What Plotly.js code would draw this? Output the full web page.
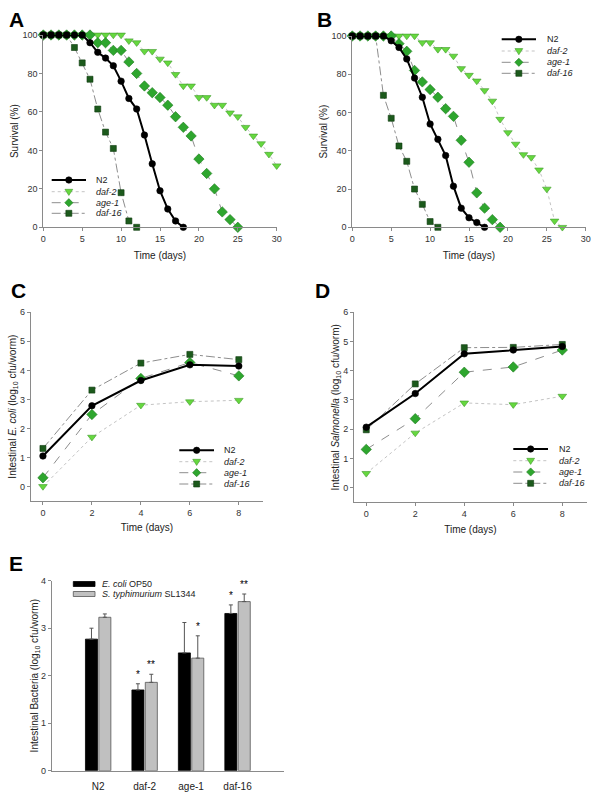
<!DOCTYPE html>
<html><head><meta charset="utf-8">
<script src="https://cdn.plot.ly/plotly-3.0.1.min.js"></script>
<style>html,body{margin:0;padding:0;background:#fff}</style>
</head><body><div id="chart" style="width:600px;height:800px"></div>
<script>
// ---------- DATA ----------
// Panel A: survival (%) on E. coli
const daysA_N2    = [0,1,2,3,4,5,6,7,8,9,10,11,12,13,14,15,16,17,18];
const survA_N2    = [100,100,100,100,100,100,96,91,88,84,76,67,61.5,48,33,19,9.5,3.3,0];
const daysA_daf2  = [0,1,2,3,4,5,6,7,8,9,10,11,12,13,14,15,16,17,18,19,20,21,22,23,24,25,26,27,28,29,30];
const survA_daf2  = [100,100,100,100,100,100,100,100,100,100,100,97,96,91.5,91.5,87.5,85.5,79.5,73.5,73.5,67.5,67.5,63.5,63.5,59.5,57.5,52,47.5,43.5,38,32];
const daysA_age1  = [0,1,2,3,4,5,6,7,8,9,10,11,12,13,14,15,16,17,18,19,20,21,22,23,24,25];
const survA_age1  = [100,100,100,100,100,100,100,96,96,92,92,86,80,73.5,70,67.5,63.5,57.5,52,47.5,35.5,28,20,8,4,0];
const daysA_daf16 = [0,1,2,3,4,5,6,7,8,9,10,11,12];
const survA_daf16 = [100,100,100,100,93.5,85.5,77,61.5,49.5,41,18,3.3,0];

// Panel B: survival (%) on Salmonella
const daysB_N2    = [0,1,2,3,4,5,6,7,8,9,10,11,12,13,14,15,16,17];
const survB_N2    = [100,100,100,100,100,97.5,94,88,78,68,54,46,37.5,21.5,10,5,2.5,0];
const daysB_daf2  = [0,1,2,3,4,5,6,7,8,9,10,11,12,13,14,15,16,17,18,19,20,21,22,23,24,25,26,27];
const survB_daf2  = [100,100,100,100,100,100,100,100,100,96.5,96.5,93,93,89.5,83,79.5,76.5,71.5,66,56.5,49.5,43.5,38,36.5,30,20,3.3,0];
const daysB_age1  = [0,1,2,3,4,5,6,7,8,9,10,11,12,13,14,15,16,17,18,19];
const survB_age1  = [100,100,100,100,100,100,96,92,82,76,72,68,62,58,45.5,34,18,10,4,0];
const daysB_daf16 = [0,1,2,3,4,5,6,7,8,9,10,11];
const survB_daf16 = [100,100,100,100,69,57,42.5,34.5,20,12,3,0];

// Panels C & D: intestinal colonisation (log10 cfu/worm)
const daysCD     = [0,2,4,6,8];
const colC_N2    = [1.05,2.78,3.65,4.19,4.15];
const colC_daf2  = [0,1.7,2.8,2.92,2.97];
const colC_age1  = [0.3,2.48,3.72,4.27,3.81];
const colC_daf16 = [1.31,3.32,4.25,4.55,4.37];
const colD_N2    = [2.07,3.22,4.58,4.71,4.83];
const colD_daf2  = [0.49,1.87,2.9,2.84,3.13];
const colD_age1  = [1.31,2.36,3.95,4.13,4.71];
const colD_daf16 = [1.98,3.55,4.79,4.8,4.9];

// Panel E: bars
const strainsE   = ['N2','daf-2','age-1','daf-16'];
const ecoliE     = [2.77,1.70,2.48,3.31];
const ecoliErrE  = [0.23,0.13,0.64,0.18];
const salE       = [3.23,1.86,2.37,3.56];
const salErrE    = [0.07,0.17,0.47,0.16];
const ecoliSigE  = ['','*','','*'];
const salSigE    = ['','**','*','**'];

const seriesNames = ['N2','daf-2','age-1','daf-16'];

// ---------- STYLE ----------
const F = 'Arial, "Liberation Sans", sans-serif';
const W = 600, H = 800;
const PX = p => p / W, PY = p => 1 - p / H;

const ST = {
  'N2':     {symbol:'circle', size:6.5, fill:'#000000', edge:'#000000', lc:'#000000', lw:2, dash:'solid', italic:false},
  'daf-2':  {symbol:'triangle-down', size:7.5, fill:'#66d83f', edge:'#3f9a2c', lc:'#b4b4b4', lw:0.8, dash:'dot', italic:true},
  'age-1':  {symbol:'diamond', size:8, fill:'#2ea62e', edge:'#1f7a1f', lc:'#707070', lw:0.8, dash:'dash', italic:true},
  'daf-16': {symbol:'square', size:6, fill:'#1c5a1c', edge:'#0e3a0e', lc:'#707070', lw:0.8, dash:'dashdot', italic:true}
};

function line(name, xs, ys, xa, ya) {
  const s = ST[name];
  return {type:'scatter', mode:'lines+markers', name:name, x:xs, y:ys, xaxis:xa, yaxis:ya,
    cliponaxis:false, showlegend:false, hoverinfo:'skip',
    line:{color:s.lc, width:s.lw, dash:s.dash},
    marker:{symbol:s.symbol, size:s.size, color:s.fill, line:{color:s.edge, width:0.6}}};
}

const traces = [
  line('daf-2', daysA_daf2, survA_daf2, 'x', 'y'),
  line('age-1', daysA_age1, survA_age1, 'x', 'y'),
  line('daf-16', daysA_daf16, survA_daf16, 'x', 'y'),
  line('N2', daysA_N2, survA_N2, 'x', 'y'),
  line('daf-2', daysB_daf2, survB_daf2, 'x2', 'y2'),
  line('age-1', daysB_age1, survB_age1, 'x2', 'y2'),
  line('daf-16', daysB_daf16, survB_daf16, 'x2', 'y2'),
  line('N2', daysB_N2, survB_N2, 'x2', 'y2'),
  line('daf-2', daysCD, colC_daf2, 'x3', 'y3'),
  line('age-1', daysCD, colC_age1, 'x3', 'y3'),
  line('daf-16', daysCD, colC_daf16, 'x3', 'y3'),
  line('N2', daysCD, colC_N2, 'x3', 'y3'),
  line('daf-2', daysCD, colD_daf2, 'x4', 'y4'),
  line('age-1', daysCD, colD_age1, 'x4', 'y4'),
  line('daf-16', daysCD, colD_daf16, 'x4', 'y4'),
  line('N2', daysCD, colD_N2, 'x4', 'y4'),
  {type:'bar', name:'E. coli OP50', x:strainsE, y:ecoliE, xaxis:'x5', yaxis:'y5', showlegend:false, hoverinfo:'skip',
   marker:{color:'#000000', line:{color:'#000000', width:0.8}},
   error_y:{type:'data', symmetric:false, array:ecoliErrE, arrayminus:ecoliErrE.map(()=>0), color:'#555555', thickness:1, width:2}},
  {type:'bar', name:'S. typhimurium SL1344', x:strainsE, y:salE, xaxis:'x5', yaxis:'y5', showlegend:false, hoverinfo:'skip',
   marker:{color:'#c0c0c0', line:{color:'#555555', width:0.8}},
   error_y:{type:'data', symmetric:false, array:salErrE, arrayminus:salErrE.map(()=>0), color:'#555555', thickness:1, width:2}}
];

function ax(extra) {
  return Object.assign({showline:true, linecolor:'#8a8a8a', linewidth:1, ticks:'outside', ticklen:3,
    tickcolor:'#8a8a8a', showgrid:false, zeroline:false, automargin:false, fixedrange:true,
    tickfont:{family:F, size:9, color:'#333'}}, extra);
}
const tfont = {family:F, size:10, color:'#222'};

const BARGAP = 0.424, BARGROUPGAP = 0.1;

const layout = {
  width:W, height:H, margin:{l:0,r:0,t:0,b:0}, paper_bgcolor:'#fff', plot_bgcolor:'rgba(0,0,0,0)',
  showlegend:false, barmode:'group', bargap:BARGAP, bargroupgap:BARGROUPGAP,
  font:{family:F, color:'#222'},
  xaxis: ax({domain:[PX(43.3), PX(276.7)], range:[0,30], dtick:5, anchor:'y', title:{text:'Time (days)', font:tfont, standoff:8}}),
  yaxis: ax({domain:[PY(227.3), PY(35)], range:[0,100], dtick:20, anchor:'x', title:{text:'Survival (%)', font:tfont, standoff:1}}),
  xaxis2: ax({domain:[PX(352.3), PX(585.7)], range:[0,30], dtick:5, anchor:'y2', title:{text:'Time (days)', font:tfont, standoff:8}}),
  yaxis2: ax({domain:[PY(227.3), PY(36)], range:[0,100], dtick:20, anchor:'x2', title:{text:'Survival (%)', font:tfont, standoff:1}}),
  xaxis3: ax({domain:[PX(30.7), PX(263.3)], range:[-0.5,9], tickvals:[0,2,4,6,8], anchor:'y3', title:{text:'Time (days)', font:tfont, standoff:7}}),
  yaxis3: ax({domain:[PY(501), PY(312.3)], range:[-0.5,6], dtick:1, anchor:'x3', title:{text:'Intestinal <i>E. coli</i> (log<sub>10</sub> cfu/worm)', font:tfont, standoff:1}}),
  xaxis4: ax({domain:[PX(354), PX(586.8)], range:[-0.5,9], tickvals:[0,2,4,6,8], anchor:'y4', title:{text:'Time (days)', font:tfont, standoff:7}}),
  yaxis4: ax({domain:[PY(502.3), PY(312.3)], range:[-0.5,6], dtick:1, anchor:'x4', title:{text:'Intestinal <i>Salmonella</i> (log<sub>10</sub> cfu/worm)', font:tfont, standoff:1}}),
  xaxis5: ax({domain:[PX(51.7), PX(284)], type:'category', categoryarray:strainsE, range:[-1,4], ticks:'', anchor:'y5', ticklabelstandoff:6, tickfont:{family:F, size:10, color:'#222'}}),
  yaxis5: ax({domain:[PY(770.7), PY(580.7)], range:[0,4], dtick:1, anchor:'x5', title:{text:'Intestinal Bacteria (log<sub>10</sub> cfu/worm)', font:tfont, standoff:0}}),
  shapes:[], annotations:[]
};

// Panel letters
[['A',16.5,19.5],['B',324.5,19.5],['C',18.5,290],['D',322.5,290],['E',15.5,563.5]].forEach(([t,x,y])=>{
  layout.annotations.push({text:'<b>'+t+'</b>', x:PX(x), y:PY(y), xref:'paper', yref:'paper', showarrow:false,
    xanchor:'center', yanchor:'middle', font:{family:F, size:21, color:'#000'}});
});

// Custom compact legends (line + marker sample + label)
function markerShape(sym, cx, cy, r, fill, edge) {
  const xs = v => PX(v), ys = v => PY(v);
  const base = {xref:'paper', yref:'paper', fillcolor:fill, line:{color:edge, width:0.6}, layer:'above'};
  if (sym === 'circle') return Object.assign({type:'circle', x0:xs(cx-r), x1:xs(cx+r), y0:ys(cy+r), y1:ys(cy-r)}, base);
  if (sym === 'square') return Object.assign({type:'rect', x0:xs(cx-r), x1:xs(cx+r), y0:ys(cy+r), y1:ys(cy-r)}, base);
  let pts;
  if (sym === 'diamond') pts = [[cx,cy-r*1.2],[cx+r*1.2,cy],[cx,cy+r*1.2],[cx-r*1.2,cy]];
  else pts = [[cx-r*1.15,cy-r*0.7],[cx+r*1.15,cy-r*0.7],[cx,cy+r*1.1]];
  const path = 'M' + pts.map(p=>xs(p[0])+','+ys(p[1])).join(' L') + ' Z';
  return Object.assign({type:'path', path:path}, base);
}
function legend(x0, x1, tx, ys) {
  seriesNames.forEach((n, i) => {
    const s = ST[n], cy = ys[i], cx = (x0 + x1) / 2;
    layout.shapes.push({type:'line', xref:'paper', yref:'paper', x0:PX(x0), x1:PX(x1), y0:PY(cy), y1:PY(cy),
      line:{color:s.lc, width:s.lw, dash:s.dash}, layer:'above'});
    const r = n === 'N2' ? 3.2 : (n === 'daf-16' ? 3 : 3.4);
    layout.shapes.push(markerShape(s.symbol, cx, cy, r, s.fill, s.edge));
    layout.annotations.push({text: s.italic ? '<i>'+n+'</i>' : n, x:PX(tx), y:PY(cy), xref:'paper', yref:'paper',
      showarrow:false, xanchor:'left', yanchor:'middle', font:{family:F, size:9, color:'#222'}});
  });
}
legend(51.7, 86, 94, [180, 191.7, 202.7, 213.3]);
legend(501.7, 536, 545, [39.3, 51, 62.3, 73.3]);
legend(179.3, 214, 222, [450.3, 461.7, 472.7, 484]);
legend(513.3, 548, 556.5, [449, 460.7, 472, 483.3]);

// Panel E legend
[['<i>E. coli</i> OP50','#000000','#000000',584],['<i>S. typhimurium</i> SL1344','#c0c0c0','#555555',594]].forEach(([t,f,e,cy])=>{
  layout.shapes.push({type:'rect', xref:'paper', yref:'paper', x0:PX(73.3), x1:PX(95), y0:PY(cy+2.5), y1:PY(cy-2.5),
    fillcolor:f, line:{color:e, width:0.8}});
  layout.annotations.push({text:t, x:PX(100), y:PY(cy), xref:'paper', yref:'paper', showarrow:false,
    xanchor:'left', yanchor:'middle', font:{family:F, size:9, color:'#222'}});
});

// Significance marks above error bars
const off = (1 - BARGAP) / 4;
strainsE.forEach((g, i) => {
  if (ecoliSigE[i]) layout.annotations.push({text:ecoliSigE[i], x:i - off, y:ecoliE[i] + ecoliErrE[i], xref:'x5', yref:'y5',
    showarrow:false, yanchor:'bottom', yshift:2, font:{family:F, size:10, color:'#000000'}});
  if (salSigE[i]) layout.annotations.push({text:salSigE[i], x:i + off, y:salE[i] + salErrE[i], xref:'x5', yref:'y5',
    showarrow:false, yanchor:'bottom', yshift:2, font:{family:F, size:10, color:'#000000'}});
});

Plotly.newPlot('chart', traces, layout, {staticPlot:true, displayModeBar:false});
</script></body></html>
